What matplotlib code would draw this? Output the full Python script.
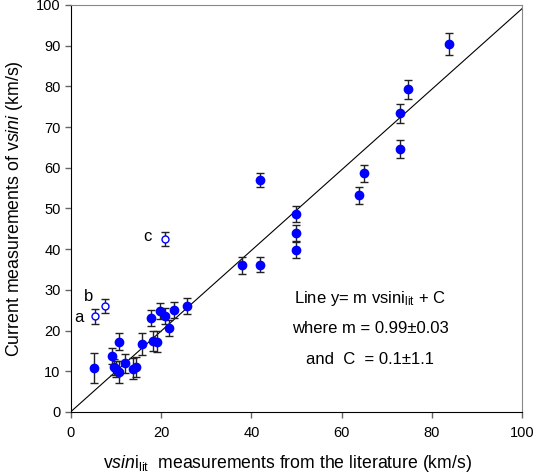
import numpy as np
import matplotlib
matplotlib.use("Agg")
import matplotlib.pyplot as plt

plt.rcParams['font.family'] = ['Liberation Sans', 'DejaVu Sans']
plt.rcParams['mathtext.fontset'] = 'custom'
plt.rcParams['mathtext.rm'] = 'Liberation Sans'
plt.rcParams['mathtext.it'] = 'Liberation Sans:italic'

# filled points: literature vsini, measured vsini, error
x_lit = [5.1, 9.2, 9.5, 10.0, 10.7, 10.7, 12.0, 13.7, 14.5, 15.8, 17.7, 18.1, 19.0,
         19.8, 20.8, 21.8, 22.9, 25.7, 37.9, 41.8, 41.8, 49.8, 49.8, 49.8,
         63.8, 65.0, 73.0, 73.0, 74.8, 83.9]
y_cur = [10.9, 13.8, 11.1, 10.6, 9.8, 17.3, 12.0, 10.6, 11.1, 16.7, 23.1, 17.4, 17.3,
         24.9, 23.6, 20.6, 25.0, 26.1, 36.0, 57.0, 36.2, 48.7, 43.9, 39.8,
         53.2, 58.6, 73.4, 64.6, 79.3, 90.3]
y_err = [3.7, 2.0, 2.0, 2.0, 2.7, 2.0, 2.3, 2.6, 2.5, 2.7, 2.0, 2.5, 2.5,
         2.0, 2.0, 2.0, 2.0, 2.0, 2.0, 1.8, 1.8, 2.0, 2.0, 2.0,
         2.0, 2.1, 2.3, 2.2, 2.3, 2.7]

# open (outlier) points a, b, c
x_out = [5.3, 7.6, 20.8]
y_out = [23.5, 26.1, 42.5]
e_out = [1.8, 1.7, 1.6]
out_labels = ['a', 'b', 'c']

m, C = 0.99, 0.1

fig = plt.figure(figsize=(5.33, 4.76), dpi=100)
ax = fig.add_axes([0.1332, 0.1345, 0.8462, 0.855])

xx = np.array([0, 100])
ax.plot(xx, m * xx + C, color='black', linewidth=0.8, zorder=1)

ax.errorbar(x_lit, y_cur, yerr=y_err, fmt='o', color='blue', markersize=6,
            ecolor='#222222', elinewidth=1, capsize=3, capthick=1, zorder=3)
ax.errorbar(x_out, y_out, yerr=e_out, fmt='o', color='blue', mfc='white',
            markersize=5, mew=1, ecolor='#222222', elinewidth=1, capsize=3,
            capthick=1, zorder=3)

for lx, ly, lab in zip([1.8, 4.0, 16.9], [23.3, 28.3, 43.2], out_labels):
    ax.text(lx, ly, lab, fontsize=12, ha='center', va='center')

ax.text(66.3, 28.0, r'Line y= m vsini$_{\rm lit}$ + C', fontsize=12, ha='center', va='center')
ax.text(66.3, 20.4, 'where m = 0.99\u00b10.03', fontsize=12, ha='center', va='center')
ax.text(66.3, 12.8, 'and  C  = 0.1\u00b11.1', fontsize=12, ha='center', va='center')

ax.set_xlim(0, 100)
ax.set_ylim(0, 100)
ax.set_xticks(np.arange(0, 101, 20))
ax.set_yticks(np.arange(0, 101, 10))
ax.tick_params(direction='out', length=4, width=1, color='#666666', labelsize=10.5)
ax.tick_params(axis='x', pad=6)

ax.spines['top'].set_color('#888888')
ax.spines['right'].set_color('#888888')

ax.set_xlabel(r'v$\it{sin}$i$_{\rm lit}$  measurements from the literature (km/s)',
              fontsize=12.7)
ax.xaxis.set_label_coords(0.479, -0.1)
ax.set_ylabel(r'Current measurements of v$\it{sini}$ (km/s)', fontsize=12.8, labelpad=8)

fig.savefig('out.png', dpi=100)
